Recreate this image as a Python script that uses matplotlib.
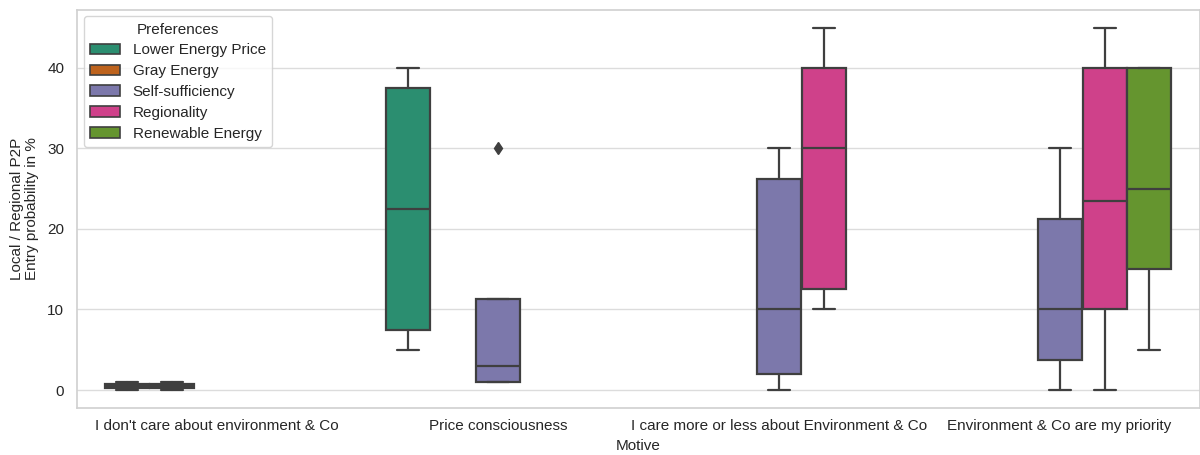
# -*- coding: utf-8 -*-
# Entry probability into a local / regional P2P market, by motive and preference

import matplotlib

matplotlib.use("Agg")

import matplotlib.pyplot as plt
import seaborn as sns
from matplotlib.patches import Patch

# ----------------
# Module constants
# ----------------

MOTIVES = [
    "I don't care about environment & Co",
    "Price consciousness",
    "I care more or less about Environment & Co",
    "Environment & Co are my priority",
]
PREFERENCES = [
    "Lower Energy Price",
    "Gray Energy",
    "Self-sufficiency",
    "Regionality",
    "Renewable Energy",
]

# One entry per box: which motive / preference it belongs to, and its statistics
BOX_MOTIVE = [0, 0, 1, 1, 2, 2, 3, 3, 3]
BOX_PREF = [0, 1, 0, 2, 2, 3, 2, 3, 4]
WHISLO = [0, 0, 5, 1, 0, 10, 0, 0, 5]
Q1 = [0.25, 0.25, 7.5, 1, 2, 12.5, 3.75, 10, 15]
MEDIAN = [0.5, 0.5, 22.5, 3, 10, 30, 10, 23.5, 25]
Q3 = [0.75, 0.75, 37.5, 11.25, 26.25, 40, 21.25, 40, 40]
WHISHI = [1, 1, 40, 11.25, 30, 45, 30, 45, 40]
FLIERS = [[], [], [], [30], [], [], [], [], []]

LINE_GRAY = "#3f3f3f"
TEXT_GRAY = "#262626"
GROUP_WIDTH = 0.8
FONT_SIZE = 11

# -----------------
# Matplotlib styles
# -----------------

sns.set_style("whitegrid")
plt.rcParams["font.family"] = ["Liberation Sans", "DejaVu Sans"]


def box_stats():
    stats = []
    for i in range(len(BOX_MOTIVE)):
        stats.append(
            dict(
                whislo=WHISLO[i],
                q1=Q1[i],
                med=MEDIAN[i],
                q3=Q3[i],
                whishi=WHISHI[i],
                fliers=FLIERS[i],
            )
        )
    return stats


def plot_boxes(axes, colors):
    n = len(PREFERENCES)
    step = GROUP_WIDTH / n
    positions = [
        m - GROUP_WIDTH / 2 + step / 2 + p * step for m, p in zip(BOX_MOTIVE, BOX_PREF)
    ]
    line = dict(color=LINE_GRAY, linewidth=1.6)
    parts = axes.bxp(
        box_stats(),
        positions=positions,
        widths=step * 0.98,
        patch_artist=True,
        manage_ticks=False,
        boxprops=dict(edgecolor=LINE_GRAY, linewidth=1.6),
        medianprops=line,
        whiskerprops=line,
        capprops=line,
        flierprops=dict(
            marker="d",
            markersize=6,
            markerfacecolor=LINE_GRAY,
            markeredgecolor=LINE_GRAY,
        ),
    )
    for box, p in zip(parts["boxes"], BOX_PREF):
        box.set_facecolor(colors[p])
        box.set_zorder(2)
    for key in ("medians", "whiskers", "caps", "fliers"):
        for artist in parts[key]:
            artist.set_zorder(2.5)


def main():
    colors = sns.color_palette("Dark2", len(PREFERENCES), desat=0.75)
    fig, axes = plt.subplots(figsize=(12, 4.55), dpi=100)
    fig.subplots_adjust(left=0.064, right=1.0, bottom=0.103, top=0.979)

    plot_boxes(axes, colors)

    axes.set_xlim(-0.5, len(MOTIVES) - 0.5)
    axes.set_ylim(-2.25, 47.25)
    axes.set_xticks(range(len(MOTIVES)))
    axes.set_xticklabels(MOTIVES)
    axes.set_yticks([0, 10, 20, 30, 40])
    axes.tick_params(labelsize=FONT_SIZE, colors=TEXT_GRAY, length=0)
    axes.tick_params(axis="y", pad=9)
    axes.tick_params(axis="x", pad=8)
    axes.grid(True, axis="y", color="#dcdcdc", linewidth=1)
    axes.grid(False, axis="x")
    axes.set_axisbelow(True)
    for spine in axes.spines.values():
        spine.set_color("#d0d0d0")
        spine.set_linewidth(1.2)
    axes.set_xlabel("Motive", fontsize=FONT_SIZE, color=TEXT_GRAY, labelpad=4)
    axes.set_ylabel(
        "Local / Regional P2P\nEntry probability in %",
        fontsize=FONT_SIZE,
        color=TEXT_GRAY,
        labelpad=6,
        linespacing=1.1,
    )

    handles = [
        Patch(facecolor=c, edgecolor=LINE_GRAY, linewidth=1.2, label=name)
        for c, name in zip(colors, PREFERENCES)
    ]
    axes.legend(
        handles=handles,
        title="Preferences",
        loc="upper left",
        fontsize=FONT_SIZE,
        title_fontsize=FONT_SIZE,
        labelspacing=0.45,
        borderaxespad=0.45,
        frameon=True,
    )

    fig.savefig("out.png", dpi=100)


if __name__ == "__main__":
    main()
